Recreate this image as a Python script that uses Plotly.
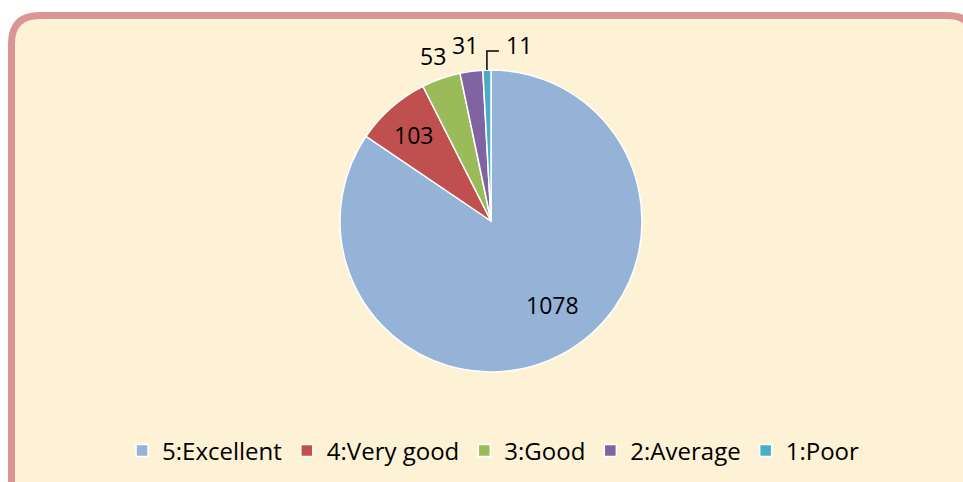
import math
import plotly.graph_objects as go

labels = ["5:Excellent", "4:Very good", "3:Good", "2:Average", "1:Poor"]
values = [1078, 103, 53, 31, 11]
colors = ["#95B3D7", "#C0504D", "#9BBB59", "#8064A2", "#4BACC6"]

W, H = 963, 482
FONT = "Open Sans, Lato, sans-serif"

# pie geometry in pixels
CX, CY, R = 491, 221, 151
# label placement styles (radius factor, angle tweak in degrees)
lab_r = [0.69, 0.77, 1.16, 1.18, None]
lab_da = [-8.5, -0.8, 0.0, -0.8, 0.0]


def px2paper(x, y):
    return x / W, 1 - y / H


def rrect(x0, y0, x1, y1, r):
    def p(x, y):
        a, b = px2paper(x, y)
        return f"{a:.5f},{b:.5f}"
    return (f"M {p(x0 + r, y0)} L {p(x1 - r, y0)} "
            f"Q {p(x1, y0)} {p(x1, y0 + r)} L {p(x1, y1 - r)} "
            f"Q {p(x1, y1)} {p(x1 - r, y1)} L {p(x0 + r, y1)} "
            f"Q {p(x0, y1)} {p(x0, y1 - r)} L {p(x0, y0 + r)} "
            f"Q {p(x0, y0)} {p(x0 + r, y0)} Z")


dx0, dy0 = px2paper(CX - R * 2.05, CY - R)
dx1, dy1 = px2paper(CX + R * 2.05, CY + R)

fig = go.Figure()
fig.add_trace(go.Pie(
    labels=labels, values=values, sort=False, direction="clockwise",
    rotation=0, marker=dict(colors=colors, line=dict(color="white", width=1.5)),
    textinfo="none", hoverinfo="label+value",
    domain=dict(x=[dx0, dx1], y=[dy1, dy0]),
))

annotations = []
shapes = [dict(type="path", xref="paper", yref="paper",
               path=rrect(11.5, 15.5, 975, 530, 28),
               fillcolor="#FDF2D5", line=dict(color="#D99694", width=7),
               layer="below")]

total = sum(values)
cum = 0
for i, v in enumerate(values):
    mid = (cum + v / 2) / total * 360
    cum += v
    if lab_r[i] is not None:
        a = math.radians(mid + lab_da[i])
        rr = R * lab_r[i]
        x, y = px2paper(CX + rr * math.sin(a), CY - rr * math.cos(a))
        annotations.append(dict(x=x, y=y, xref="paper", yref="paper",
                                text=str(v), showarrow=False,
                                xanchor="center", yanchor="middle",
                                font=dict(family=FONT, size=23, color="black")))
    else:
        a = math.radians(mid)
        sx, sy = CX + R * math.sin(a), CY - R * math.cos(a)
        ex, ey = sx, sy - 19
        fx, fy = ex + 12, ey
        p1 = px2paper(sx, sy)
        p2 = px2paper(ex, ey)
        p3 = px2paper(fx, fy)
        shapes.append(dict(type="path", xref="paper", yref="paper",
                           path=f"M {p1[0]},{p1[1]} L {p2[0]},{p2[1]} L {p3[0]},{p3[1]}",
                           line=dict(color="black", width=1.5)))
        tx, ty = px2paper(fx + 5, fy - 6)
        annotations.append(dict(x=tx, y=ty, xref="paper", yref="paper",
                                text=str(v), showarrow=False,
                                xanchor="left", yanchor="middle",
                                font=dict(family=FONT, size=23, color="black")))

fig.update_layout(
    width=W, height=H,
    margin=dict(l=0, r=0, t=0, b=0, autoexpand=False),
    paper_bgcolor="white",
    font=dict(family=FONT, size=23, color="black"),
    showlegend=True,
    legend=dict(orientation="h", x=0.512, xanchor="center", y=1 - 451 / H,
                yanchor="middle", font=dict(family=FONT, size=24),
                bgcolor="rgba(0,0,0,0)", itemwidth=30, traceorder="normal"),
    shapes=shapes,
    annotations=annotations,
)

fig.write_html("out.html", config={"displayModeBar": False},
               post_script="document.body.style.margin='0';"
                           "document.body.style.overflow='hidden';")
